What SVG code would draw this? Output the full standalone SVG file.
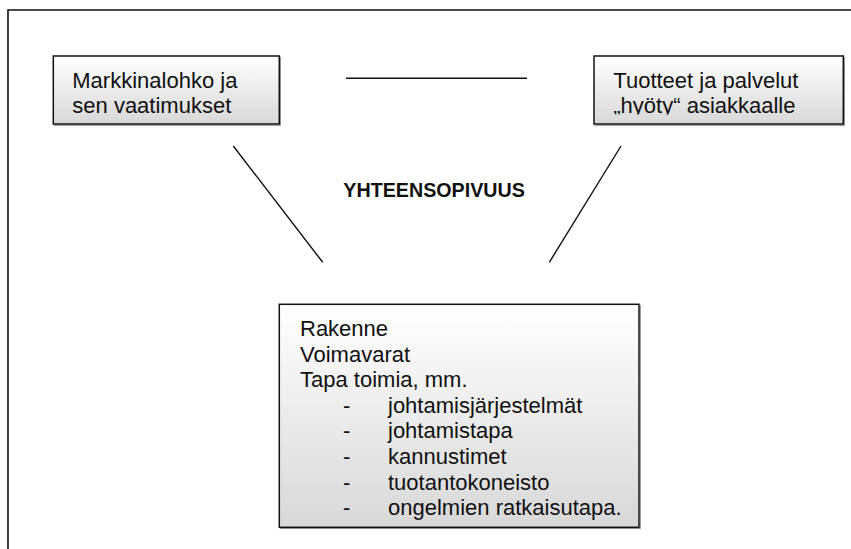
<svg xmlns="http://www.w3.org/2000/svg" width="851" height="549" viewBox="0 0 851 549">
  <defs>
    <linearGradient id="boxFill" x1="0" y1="0" x2="0" y2="1">
      <stop offset="0" stop-color="#ffffff"/>
      <stop offset="1" stop-color="#d8d8d8"/>
    </linearGradient>
    <clipPath id="lineCut">
      <rect x="594" y="56" width="249" height="58.5"/>
    </clipPath>
    <style>
      .frame { fill: none; stroke: #111; stroke-width: 1.6; }
      .box { fill: url(#boxFill); stroke: #111; stroke-width: 1.5; }
      .shadow { fill: none; stroke: #9a9a9a; stroke-width: 1; }
      .link { stroke: #111; stroke-width: 1.4; fill: none; }
      .txt { font-family: "Liberation Sans", Arial, Helvetica, sans-serif; font-size: 22px; fill: #111; }
      .title { font-family: "Liberation Sans", Arial, Helvetica, sans-serif; font-size: 19.7px; font-weight: bold; fill: #111; }
    </style>
  </defs>

  <rect width="851" height="549" fill="#ffffff"/>

  <!-- outer frame: top and left edges -->
  <path class="frame" d="M8,549 V10 H851"/>

  <!-- connectors -->
  <g id="connectors">
    <line class="link" x1="346" y1="78.3" x2="527" y2="78.3"/>
    <line class="link" x1="233.3" y1="146" x2="322.7" y2="262.3"/>
    <line class="link" x1="621" y1="146" x2="549.3" y2="262.3"/>
  </g>

  <text class="title" x="343.3" y="196.7">YHTEENSOPIVUUS</text>

  <g id="market">
    <path class="shadow" d="M280.5,57 V125.5 H54"/>
    <rect class="box" x="53.3" y="56" width="226" height="68"/>
    <text class="txt" x="72.3" y="88.3">Markkinalohko ja</text>
    <text class="txt" x="72.3" y="113.3">sen vaatimukset</text>
  </g>

  <g id="offering">
    <path class="shadow" d="M844.5,57 V125.5 H595"/>
    <rect class="box" x="594" y="56" width="249.3" height="68"/>
    <text class="txt" x="613.3" y="88.3">Tuotteet ja palvelut</text>
    <text class="txt" x="613.3" y="113.3" clip-path="url(#lineCut)">„hyöty“ asiakkaalle</text>
  </g>

  <g id="organisation">
    <path class="shadow" d="M640.5,305 V528.5 H280"/>
    <rect class="box" x="279.3" y="304.3" width="359.7" height="223"/>
    <text class="txt" x="300" y="336">Rakenne</text>
    <text class="txt" x="300" y="361.6">Voimavarat</text>
    <text class="txt" x="300" y="387.2">Tapa toimia, mm.</text>
    <text class="txt" x="343" y="412.8">-</text>
    <text class="txt" x="388" y="412.8">johtamisjärjestelmät</text>
    <text class="txt" x="343" y="438.4">-</text>
    <text class="txt" x="388" y="438.4">johtamistapa</text>
    <text class="txt" x="343" y="464">-</text>
    <text class="txt" x="388" y="464">kannustimet</text>
    <text class="txt" x="343" y="489.6">-</text>
    <text class="txt" x="388" y="489.6">tuotantokoneisto</text>
    <text class="txt" x="343" y="515.2">-</text>
    <text class="txt" x="388" y="515.2">ongelmien ratkaisutapa.</text>
  </g>
</svg>
